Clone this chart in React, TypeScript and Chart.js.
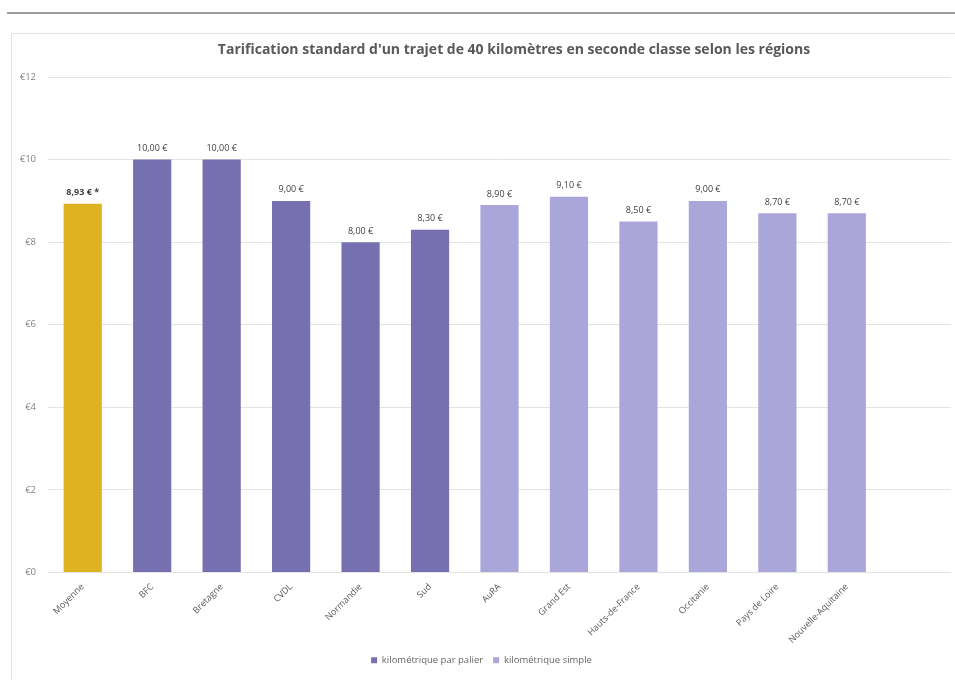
import React, { useEffect, useRef } from "react";
import { Chart, registerables } from "chart.js";

Chart.register(...registerables);

const chartTitle =
  "Tarification standard d'un trajet de 40 kilomètres en seconde classe selon les régions";
const categories = [
  "Moyenne",
  "BFC",
  "Bretagne",
  "CVDL",
  "Normandie",
  "Sud",
  "AuRA",
  "Grand Est",
  "Hauts-de-France",
  "Occitanie",
  "Pays de Loire",
  "Nouvelle-Aquitaine",
];
const moyenneValues = [8.93, null, null, null, null, null, null, null, null, null, null, null];
const palierValues = [null, 10.0, 10.0, 9.0, 8.0, 8.3, null, null, null, null, null, null];
const simpleValues = [null, null, null, null, null, null, 8.9, 9.1, 8.5, 9.0, 8.7, 8.7];
const seriesNames = ["Moyenne", "kilométrique par palier", "kilométrique simple"];
const yTicks = [0, 2, 4, 6, 8, 10, 12];

const FONT = "'Open Sans', Lato, sans-serif";

const fmt = (v: number) => v.toFixed(2).replace(".", ",") + " €";

const valueLabelPlugin = {
  id: "valueLabels",
  afterDatasetsDraw(chart: any) {
    const ctx = chart.ctx;
    ctx.save();
    ctx.textAlign = "center";
    ctx.textBaseline = "middle";
    chart.data.datasets.forEach((ds: any, di: number) => {
      const meta = chart.getDatasetMeta(di);
      meta.data.forEach((bar: any, i: number) => {
        const v = ds.data[i];
        if (v === null || v === undefined) return;
        const isAvg = di === 0;
        ctx.font = `${isAvg ? "bold " : ""}9px ${FONT}`;
        ctx.fillStyle = "#404040";
        ctx.fillText(fmt(v) + (isAvg ? " *" : ""), bar.x, bar.y - 11);
      });
    });
    ctx.restore();
  },
};

const titlePlugin = {
  id: "customTitle",
  afterDraw(chart: any) {
    const ctx = chart.ctx;
    ctx.save();
    ctx.font = `bold 14px ${FONT}`;
    ctx.fillStyle = "#595959";
    ctx.textAlign = "center";
    ctx.textBaseline = "middle";
    ctx.fillText(chartTitle, 502, 16);
    ctx.restore();
  },
};

function BarChart() {
  const ref = useRef<HTMLCanvasElement>(null);
  useEffect(() => {
    if (!ref.current) return;
    const chart = new Chart(ref.current, {
      type: "bar",
      data: {
        labels: categories,
        datasets: [
          { label: seriesNames[0], data: moyenneValues, backgroundColor: "#DFB221" },
          { label: seriesNames[1], data: palierValues, backgroundColor: "#7670B0" },
          { label: seriesNames[2], data: simpleValues, backgroundColor: "#ABA6D9" },
        ],
      },
      options: {
        animation: false,
        responsive: true,
        maintainAspectRatio: false,
        categoryPercentage: 1,
        barPercentage: 0.55,
        layout: { padding: { top: 43, right: 4, bottom: 5, left: 0 } },
        plugins: {
          title: { display: false },
          tooltip: { enabled: false },
          legend: {
            display: true,
            position: "bottom",
            labels: {
              filter: (item: any) => item.datasetIndex !== 0,
              boxWidth: 6,
              boxHeight: 6,
              padding: 10,
              color: "#666666",
              font: { family: FONT, size: 9.5 },
            },
          },
        },
        scales: {
          x: {
            stacked: true,
            grid: { display: false },
            border: { display: false },
            ticks: {
              minRotation: 45,
              maxRotation: 45,
              autoSkip: false,
              padding: 1,
              color: "#595959",
              font: { family: FONT, size: 9 },
            },
            afterBuildTicks: (scale: any) => {
              scale._valueRange = categories.length + 1;
            },
            afterFit: (scale: any) => {
              scale.height = 73;
            },
          },
          y: {
            min: 0,
            max: 12,
            afterBuildTicks: (scale: any) => {
              scale.ticks = yTicks.map((v) => ({ value: v }));
            },
            afterFit: (scale: any) => {
              scale.width = 36;
            },
            grid: { color: "#E4E4E4", drawTicks: false },
            border: { display: false },
            ticks: {
              padding: 12,
              color: "#808080",
              font: { family: FONT, size: 9.5 },
              callback: (v: any) => "€" + v,
            },
          },
        },
      },
      plugins: [valueLabelPlugin, titlePlugin],
    });
    return () => chart.destroy();
  }, []);
  return <canvas ref={ref} />;
}

export default function App() {
  return (
    <div>
      <div
        style={{
          position: "absolute",
          left: 7,
          top: 12,
          width: 948,
          height: 2,
          background: "#9C9C9C",
        }}
      />
      <div
        style={{
          position: "absolute",
          left: 11,
          top: 33,
          width: 960,
          height: 680,
          border: "1px solid #E2E2E2",
          boxSizing: "border-box",
        }}
      />
      <div
        style={{
          position: "absolute",
          left: 12,
          top: 34,
          width: 943,
          height: 646,
        }}
      >
        <BarChart />
      </div>
    </div>
  );
}
